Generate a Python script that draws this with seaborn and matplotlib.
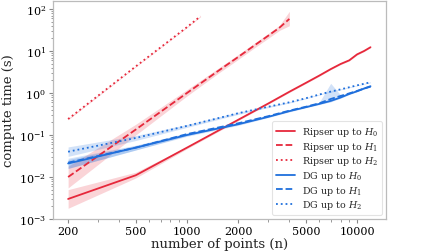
import numpy as np
import pandas as pd
import matplotlib
matplotlib.use("Agg")
import matplotlib.pyplot as plt
import matplotlib.ticker as mticker
import seaborn as sns

sns.set_style("white")
plt.rcParams["font.family"] = ["DejaVu Serif"]
plt.rcParams["mathtext.fontset"] = "dejavuserif"

# ---- data ----
x_rh0 = [200, 500, 1000, 2000, 3000, 4000, 5000, 6000, 7000, 8000, 9000, 10000, 11000, 12000]
rh0_mid = [0.003, 0.011, 0.05, 0.23, 0.56, 1.07, 1.74, 2.6, 3.7, 4.9, 6.0, 8.3, 10.0, 12.3]
rh0_lo = [0.0018, 0.0095, 0.047, 0.22, 0.54, 1.03, 1.68, 2.5, 3.6, 4.75, 5.8, 8.0, 9.7, 12.0]
rh0_hi = [0.005, 0.013, 0.053, 0.24, 0.58, 1.11, 1.8, 2.7, 3.8, 5.05, 6.2, 8.6, 10.3, 12.6]

x_rh1 = [200, 500, 1000, 1500, 2000, 2500, 3000, 3500, 4000]
rh1_mid = [0.01, 0.135, 1.0, 3.2, 7.2, 13.7, 23.0, 36.0, 58.0]
rh1_lo = [0.0055, 0.1, 0.85, 2.8, 6.3, 12.0, 20.0, 31.0, 40.0]
rh1_hi = [0.018, 0.18, 1.2, 3.7, 8.2, 15.5, 26.0, 41.0, 88.0]

x_rh2 = [200, 500, 1000, 1200]
rh2_mid = [0.24, 4.3, 37.0, 67.0]
rh2_lo = [0.23, 4.2, 36.0, 65.0]
rh2_hi = [0.25, 4.4, 38.0, 69.0]

x_dg = [200, 500, 1000, 2000, 3000, 4000, 5000, 6000, 7000, 8000, 9000, 10000, 11000, 12000]
dh0_mid = [0.021, 0.05, 0.1, 0.18, 0.27, 0.37, 0.46, 0.55, 0.65, 0.78, 0.95, 1.1, 1.28, 1.45]
dh0_lo = [0.016, 0.044, 0.093, 0.17, 0.26, 0.355, 0.445, 0.53, 0.62, 0.75, 0.92, 1.07, 1.25, 1.41]
dh0_hi = [0.026, 0.056, 0.107, 0.19, 0.28, 0.385, 0.475, 0.57, 0.68, 0.81, 0.98, 1.13, 1.31, 1.49]

dh1_mid = [0.022, 0.05, 0.105, 0.19, 0.28, 0.38, 0.47, 0.57, 0.72, 0.85, 0.98, 1.12, 1.28, 1.42]
dh1_lo = [0.016, 0.044, 0.097, 0.18, 0.27, 0.365, 0.455, 0.55, 0.62, 0.8, 0.95, 1.09, 1.25, 1.38]
dh1_hi = [0.028, 0.057, 0.113, 0.2, 0.29, 0.395, 0.485, 0.6, 1.7, 0.9, 1.01, 1.15, 1.31, 1.46]

dh2_mid = [0.04, 0.085, 0.165, 0.33, 0.47, 0.6, 0.75, 0.92, 1.08, 1.22, 1.37, 1.52, 1.66, 1.8]
dh2_lo = [0.031, 0.074, 0.152, 0.31, 0.45, 0.58, 0.73, 0.9, 1.05, 1.19, 1.34, 1.49, 1.63, 1.76]
dh2_hi = [0.052, 0.097, 0.178, 0.35, 0.49, 0.62, 0.77, 0.94, 1.11, 1.25, 1.4, 1.55, 1.69, 1.84]

xticks = [200, 500, 1000, 2000, 5000, 10000]
xticklabels = ["200", "500", "1000", "2000", "5000", "10000"]

RED = "#e6283b"
BLUE = "#1f6fdc"

series = [
    ("Ripser up to $H_0$", x_rh0, rh0_lo, rh0_mid, rh0_hi, RED, "-"),
    ("Ripser up to $H_1$", x_rh1, rh1_lo, rh1_mid, rh1_hi, RED, "--"),
    ("Ripser up to $H_2$", x_rh2, rh2_lo, rh2_mid, rh2_hi, RED, ":"),
    ("DG up to $H_0$", x_dg, dh0_lo, dh0_mid, dh0_hi, BLUE, "-"),
    ("DG up to $H_1$", x_dg, dh1_lo, dh1_mid, dh1_hi, BLUE, "--"),
    ("DG up to $H_2$", x_dg, dh2_lo, dh2_mid, dh2_hi, BLUE, ":"),
]

fig = plt.figure(figsize=(4.29, 2.53), dpi=100)
ax = fig.add_axes([53 / 429, 1 - 220 / 253, 333 / 429, 218 / 253])

for label, xs, lo, mid, hi, col, ls in series:
    df = pd.DataFrame({
        "n": list(xs) * 3,
        "t": list(lo) + list(mid) + list(hi),
    })
    sns.lineplot(data=df, x="n", y="t", estimator="median", errorbar=("pi", 100),
                 color=col, linestyle=ls, linewidth=1.3, label=label, ax=ax,
                 err_kws={"alpha": 0.2, "linewidth": 0})

ax.set_xscale("log")
ax.set_yscale("log")
ax.set_xlim(163, 14800)
ax.set_ylim(1e-3, 155)
ax.xaxis.set_major_locator(mticker.FixedLocator(xticks))
ax.xaxis.set_major_formatter(mticker.FixedFormatter(xticklabels))
ax.xaxis.set_minor_locator(mticker.LogLocator(base=10, subs=np.arange(2, 10) * 1.0, numticks=20))
ax.xaxis.set_minor_formatter(mticker.NullFormatter())
ax.yaxis.set_major_locator(mticker.LogLocator(base=10, numticks=12))
ax.yaxis.set_minor_locator(mticker.LogLocator(base=10, subs=np.arange(2, 10) * 1.0, numticks=20))
ax.yaxis.set_minor_formatter(mticker.NullFormatter())

ax.tick_params(axis="both", which="major", direction="out", length=3, width=0.8,
               color="#888888", labelsize=8, labelcolor="black", bottom=True, left=True, pad=2)
ax.tick_params(axis="both", which="minor", direction="out", length=1.8, width=0.6,
               color="#888888", bottom=True, left=True)
for sp in ax.spines.values():
    sp.set_color("#bbbbbb")
    sp.set_linewidth(0.9)

ax.set_xlabel("number of points (n)", fontsize=9.5, labelpad=1)
ax.set_ylabel("compute time (s)", fontsize=9.5, labelpad=3)

leg = ax.legend(loc="lower right", fontsize=6.8, frameon=True, borderaxespad=0.4,
                labelspacing=0.18, handlelength=2.0, borderpad=0.4)
leg.get_frame().set_edgecolor("#dddddd")
leg.get_frame().set_linewidth(0.8)

fig.savefig("out.png", dpi=100)
